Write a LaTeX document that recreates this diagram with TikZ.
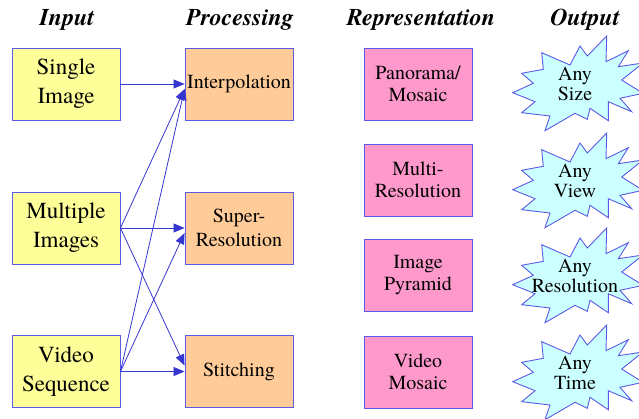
\documentclass[tikz,border=0pt]{standalone}
\usepackage{fontspec}
\setmainfont{texgyretermes}[Extension=.otf, UprightFont=*-regular, BoldFont=*-bold, ItalicFont=*-italic, BoldItalicFont=*-bolditalic]
\usepackage{tikz}
\usetikzlibrary{positioning}
\usetikzlibrary{arrows.meta}

\definecolor{inyellow}{HTML}{FFFF99}
\definecolor{procpeach}{HTML}{FFCC99}
\definecolor{reppink}{HTML}{FF99CC}
\definecolor{outcyan}{HTML}{CCFFFF}
\definecolor{edgeblue}{HTML}{5A5AE6}
\definecolor{arrowblue}{HTML}{3535D0}

\tikzset{
  box/.style={draw=edgeblue, line width=0.9pt, minimum width=108pt, minimum height=72pt, align=center, inner sep=0pt},
  inbox/.style={box, fill=inyellow, font=\fontsize{23}{29}\selectfont},
  procbox/.style={box, fill=procpeach, font=\fontsize{20}{24}\selectfont},
  repbox/.style={box, fill=reppink, font=\fontsize{20}{22}\selectfont},
  burst/.style={draw=edgeblue, line width=0.9pt, fill=outcyan, line join=miter},
  head/.style={font=\fontsize{24}{28}\selectfont\bfseries\itshape, anchor=base},
  link/.style={draw=arrowblue, line width=0.8pt, -{Triangle[length=11pt,width=9pt]}}
}

\begin{document}
\begin{tikzpicture}[x=1pt,y=-1pt]
  \useasboundingbox (0,0) rectangle (639,418);
  % headings
  \node[head] (hin) at (67,25) {Input};
  \node[head] (hproc) at (240,25) {Processing};
  \node[head] (hrep) at (421,25) {Representation};
  \node[head] (hout) at (585,25) {Output};
  % input column
  \node[inbox] (single) at (66,84) {Single\\Image};
  \node[inbox] (multi) at (66,228) {Multiple\\Images};
  \node[inbox] (video) at (66,371.5) {Video\\Sequence};
  % processing column
  \node[procbox] (interp) at (239,84) {Interpolation};
  \node[procbox] (superres) at (239,228) {Super-\\Resolution};
  \node[procbox] (stitch) at (239,371.5) {Stitching};
  % representation column
  \node[repbox] (pano) at (418,84) {Panorama/\\Mosaic};
  \node[repbox] (multires) at (418,180) {Multi-\\Resolution};
  \node[repbox] (pyramid) at (418,275.5) {Image\\Pyramid};
  \node[repbox] (vmosaic) at (418,372) {Video\\Mosaic};
  % output column
  \foreach \n/\y/\txt in {size/84/{Any\\Size}, view/181/{Any\\View}, res/276/{Any\\Resolution}, time/373/{Any\\Time}}{
    \draw[burst, shift={(575,\y)}] (31.7,-48) -- (31,-22.3) -- (53.3,-33.3) -- (43.3,-17.3) -- (68,-21)
      -- (46.7,-4) -- (68,9.3) -- (45,14.3) -- (56.7,27.7) -- (33.3,17.7) -- (33.3,36.7)
      -- (15,24.3) -- (12.3,35.3) -- (0,29.3) -- (-30,46.7) -- (-25,32) -- (-53.3,28.7)
      -- (-40,17.7) -- (-62.3,8.7) -- (-41.7,-0.7) -- (-53.3,-10.7) -- (-31.7,-14.7)
      -- (-33.3,-31.3) -- (-5,-19) -- (5,-38) -- (12.3,-28) -- cycle;
    \node[align=center, font=\fontsize{20}{20.5}\selectfont] (out\n) at (575,\y) {\txt};
  }
  % connectors
  \draw[link] (single.east) -- (interp.west);
  \draw[link] (multi.east) -- ([yshift=-5pt]interp.west);
  \draw[link] (multi.east) -- (superres.west);
  \draw[link] (multi.east) -- ([yshift=6pt]stitch.west);
  \draw[link] (video.east) -- ([yshift=-5pt]interp.west);
  \draw[link] (video.east) -- ([yshift=-5pt]superres.west);
  \draw[link] (video.east) -- (stitch.west);
\end{tikzpicture}
\end{document}
